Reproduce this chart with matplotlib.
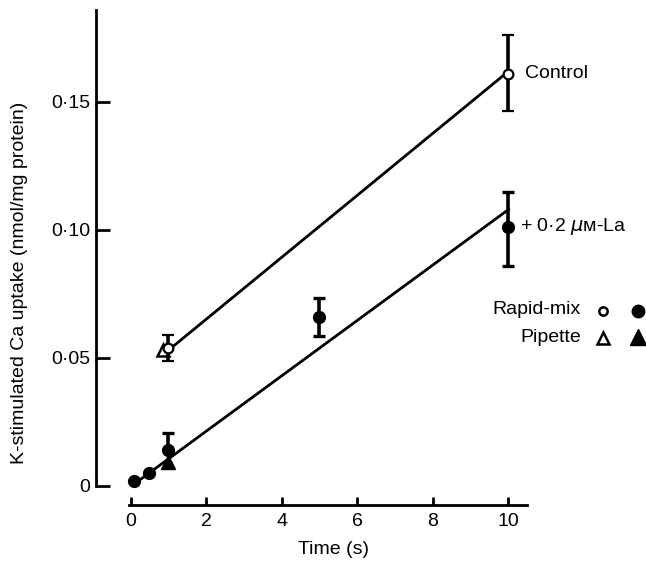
import matplotlib.pyplot as plt
import numpy as np

plt.rcParams['font.family'] = ['Liberation Sans', 'DejaVu Sans']

# rapid-mix, control
ctrl_t = [1, 10]
ctrl_y = [0.054, 0.161]
ctrl_hi = [0.059, 0.176]
ctrl_lo = [0.049, 0.1465]

# rapid-mix, + La
la_t = [0.1, 0.5, 1, 5, 10]
la_y = [0.002, 0.005, 0.014, 0.066, 0.101]
la_hi = [0.002, 0.005, 0.0207, 0.0734, 0.115]
la_lo = [0.002, 0.005, 0.014, 0.0586, 0.086]

# pipette
pip_ctrl_t, pip_ctrl_y = [0.85], [0.053]
pip_la_t, pip_la_y = [1], [0.0094]

# fitted lines
fit_ctrl_t, fit_ctrl_y = [1, 10], [0.053, 0.162]
fit_la_t, fit_la_y = [0.1, 10], [0.0008, 0.108]

xticks = [0, 2, 4, 6, 8, 10]
yticks = [0, 0.05, 0.10, 0.15]
ytick_labels = ['0', '0·05', '0·10', '0·15']

W, H = 646, 565
fs = 14
fig = plt.figure(figsize=(W / 100, H / 100), dpi=100)

# pixel layout of the original
x0_px, px_per_x = 130.5, 37.8
y0_px, px_per_y = 486, 2560
ax_l, ax_r, ax_t, ax_b = 96, 560, 10, 505
ax = fig.add_axes([ax_l / W, 1 - ax_b / H, (ax_r - ax_l) / W, (ax_b - ax_t) / H])
ax.set_xlim((ax_l - x0_px) / px_per_x, (ax_r - x0_px) / px_per_x)
ax.set_ylim(-(ax_b - y0_px) / px_per_y, (y0_px - ax_t) / px_per_y)

for s in ['top', 'right']:
    ax.spines[s].set_visible(False)
ax.spines['left'].set_linewidth(2)
ax.spines['bottom'].set_linewidth(2)
ax.spines['left'].set_bounds(0, ax.get_ylim()[1])
ax.spines['bottom'].set_bounds(-0.05, 10.5)

ax.set_xticks(xticks)
ax.set_xticklabels([str(t) for t in xticks])
ax.set_yticks(yticks)
ax.set_yticklabels(ytick_labels)
ax.tick_params(axis='y', direction='in', length=10, width=2, labelsize=fs, pad=4)
ax.tick_params(axis='x', direction='in', length=6, width=2, labelsize=fs, pad=6)

lw = 2
ax.plot(fit_ctrl_t, fit_ctrl_y, color='black', lw=lw, zorder=2)
ax.plot(fit_la_t, fit_la_y, color='black', lw=lw, zorder=2)

ctrl_err = [np.array(ctrl_y) - np.array(ctrl_lo), np.array(ctrl_hi) - np.array(ctrl_y)]
ax.errorbar(ctrl_t, ctrl_y, yerr=ctrl_err, fmt='o', mfc='white', mec='black',
            mew=1.6, ms=7, ecolor='black', elinewidth=2.6, capsize=4, capthick=2.4, zorder=3)
la_err = [np.array(la_y) - np.array(la_lo), np.array(la_hi) - np.array(la_y)]
ax.errorbar(la_t, la_y, yerr=la_err, fmt='o', mfc='black', mec='black',
            ms=8.5, ecolor='black', elinewidth=2.6, capsize=4, capthick=2.4, zorder=3)

ax.plot(pip_ctrl_t, pip_ctrl_y, '^', mfc='white', mec='black', mew=1.8, ms=8, zorder=2.5)
ax.plot(pip_la_t, pip_la_y, '^', color='black', ms=9.5, zorder=2.5)

# curve labels
ax.annotate('Control', (ctrl_t[-1], ctrl_y[-1]), xytext=(12, 0), textcoords='offset points',
            va='center', ha='left', fontsize=fs, annotation_clip=False)
ax.annotate(r'+ 0·2 $\mu$ᴍ-La', (la_t[-1], la_y[-1]), xytext=(8, 1), textcoords='offset points',
            va='center', ha='left', fontsize=fs, annotation_clip=False)

# key
def fx(px):
    return px / W


def fy(py):
    return 1 - py / H


fig.text(fx(581), fy(310), 'Rapid-mix', ha='right', va='center', fontsize=fs)
fig.text(fx(581), fy(337), 'Pipette', ha='right', va='center', fontsize=fs)
fig.lines.append(plt.Line2D([fx(603)], [fy(311)], marker='o', mfc='white', mec='black',
                            mew=1.8, ms=6, transform=fig.transFigure, ls='none'))
fig.lines.append(plt.Line2D([fx(638)], [fy(311)], marker='o', color='black',
                            ms=9, transform=fig.transFigure, ls='none'))
fig.lines.append(plt.Line2D([fx(603)], [fy(338)], marker='^', mfc='white', mec='black',
                            mew=1.8, ms=8.5, transform=fig.transFigure, ls='none'))
fig.lines.append(plt.Line2D([fx(638)], [fy(337)], marker='^', color='black',
                            ms=11, transform=fig.transFigure, ls='none'))

fig.text(fx(20), fy(283), 'K-stimulated Ca uptake (nmol/mg protein)', rotation=90,
         ha='center', va='center', fontsize=fs)
fig.text(fx(333), fy(549), 'Time (s)', ha='center', va='center', fontsize=fs)

fig.savefig('out.png', dpi=100)
